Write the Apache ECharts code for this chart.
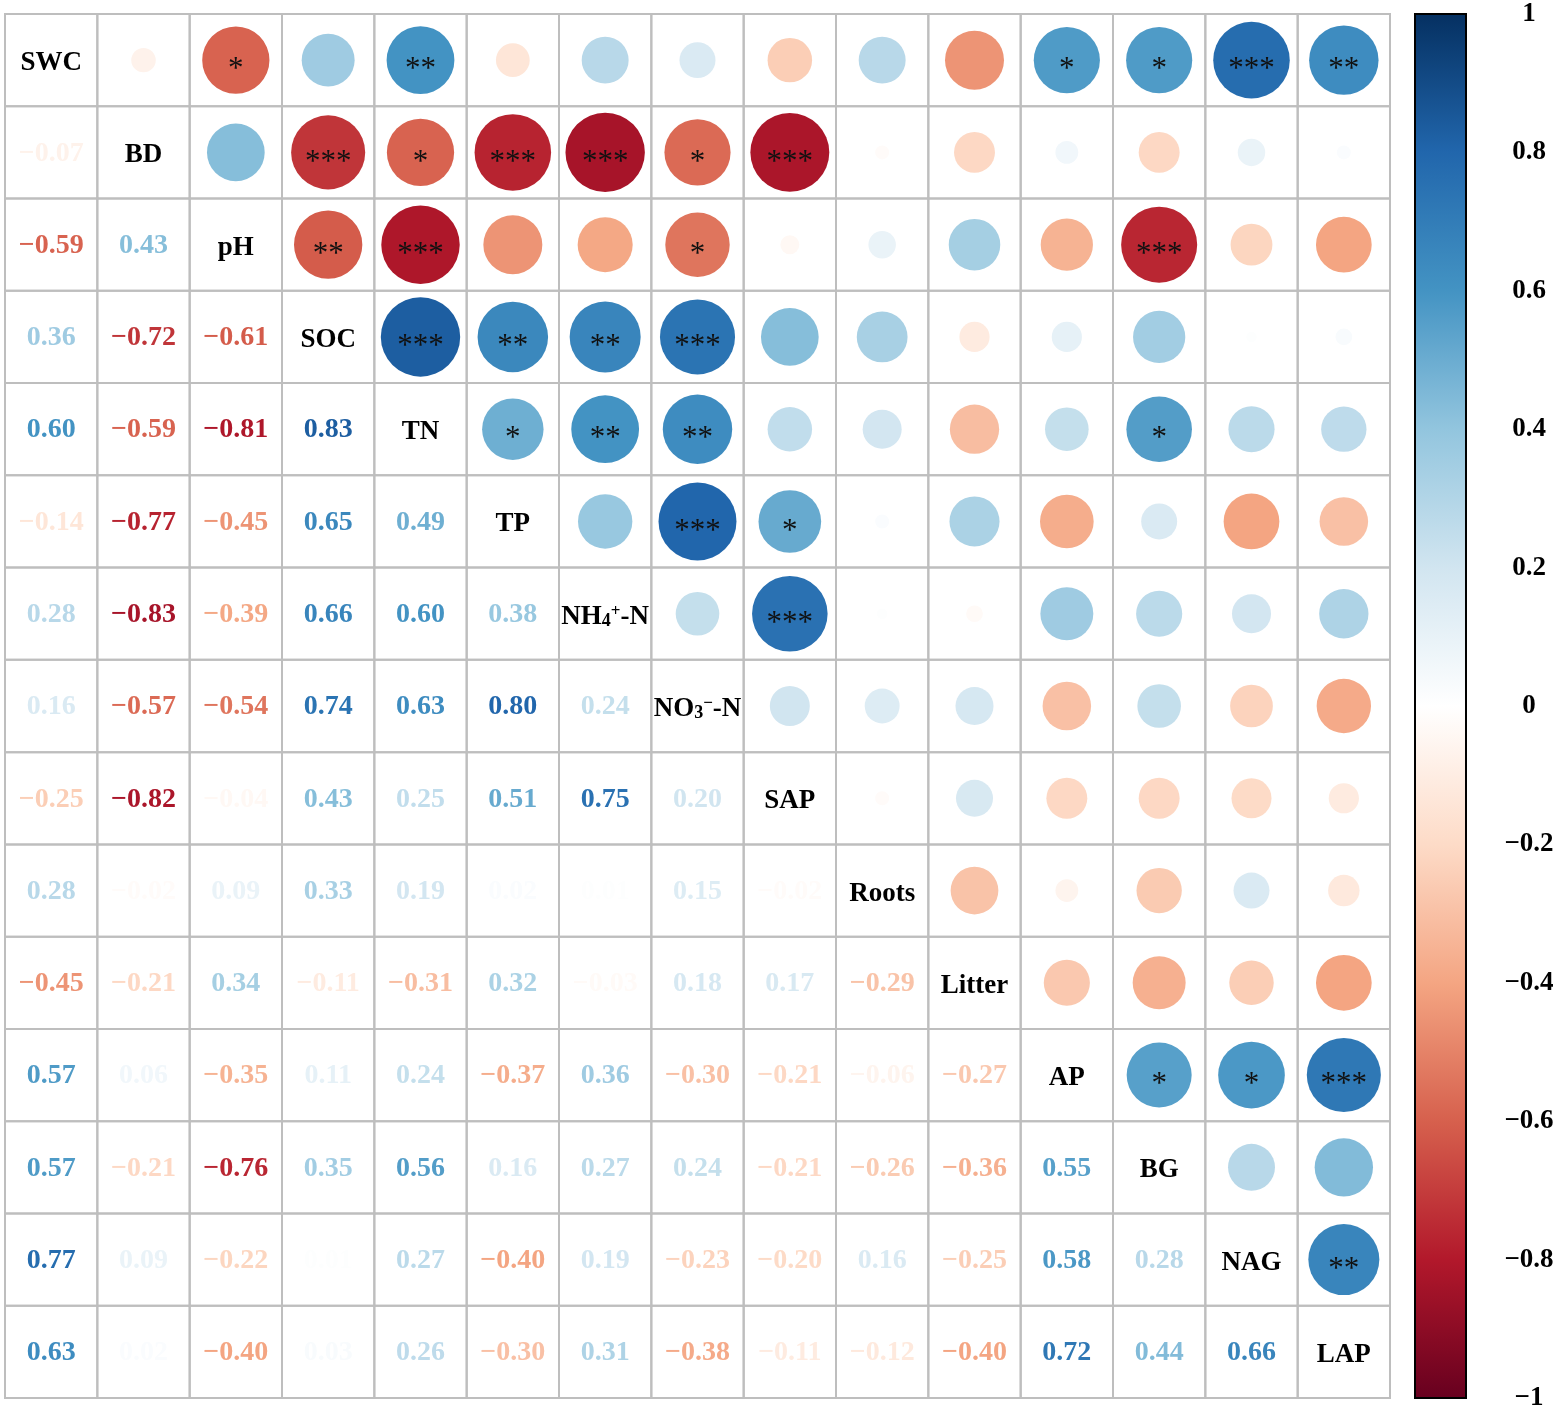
<!DOCTYPE html>
<html>
<head>
<meta charset="utf-8">
<script src="https://cdn.jsdelivr.net/npm/echarts@6/dist/echarts.min.js"></script>
<style>
  html, body { margin: 0; padding: 0; background: #fff; }
  #main { width: 1559px; height: 1412px; }
</style>
</head>
<body>
<div id="main"></div>
<script>
// variable names, in plotting order (rich text marks the sub/superscripts)
var variables = ['SWC', 'BD', 'pH', 'SOC', 'TN', 'TP', 'NH{s|4}{p|+}-N', 'NO{s|3}{p|\u2212}-N',
  'SAP', 'Roots', 'Litter', 'AP', 'BG', 'NAG', 'LAP'];

// lower triangle of the correlation matrix, row by row
var corrLower = [
  [],
  [-0.07],
  [-0.59, 0.43],
  [0.36, -0.72, -0.61],
  [0.60, -0.59, -0.81, 0.83],
  [-0.14, -0.77, -0.45, 0.65, 0.49],
  [0.28, -0.83, -0.39, 0.66, 0.60, 0.38],
  [0.16, -0.57, -0.54, 0.74, 0.63, 0.80, 0.24],
  [-0.25, -0.82, -0.04, 0.43, 0.25, 0.51, 0.75, 0.20],
  [0.28, -0.02, 0.09, 0.33, 0.19, 0.02, 0.01, 0.15, -0.02],
  [-0.45, -0.21, 0.34, -0.11, -0.31, 0.32, -0.03, 0.18, 0.17, -0.29],
  [0.57, 0.06, -0.35, 0.11, 0.24, -0.37, 0.36, -0.30, -0.21, -0.06, -0.27],
  [0.57, -0.21, -0.76, 0.35, 0.56, 0.16, 0.27, 0.24, -0.21, -0.26, -0.36, 0.55],
  [0.77, 0.09, -0.22, 0.01, 0.27, -0.40, 0.19, -0.23, -0.20, 0.16, -0.25, 0.58, 0.28],
  [0.63, 0.02, -0.40, 0.03, 0.26, -0.30, 0.31, -0.38, -0.11, -0.12, -0.40, 0.72, 0.44, 0.66]
];

// significance marks shown in the upper triangle: [row, col, stars]
var sigMarks = [
  [0, 2, '*'], [0, 4, '**'], [0, 11, '*'], [0, 12, '*'], [0, 13, '***'], [0, 14, '**'],
  [1, 3, '***'], [1, 4, '*'], [1, 5, '***'], [1, 6, '***'], [1, 7, '*'], [1, 8, '***'],
  [2, 3, '**'], [2, 4, '***'], [2, 7, '*'], [2, 12, '***'],
  [3, 4, '***'], [3, 5, '**'], [3, 6, '**'], [3, 7, '***'],
  [4, 5, '*'], [4, 6, '**'], [4, 7, '**'], [4, 12, '*'],
  [5, 7, '***'], [5, 8, '*'],
  [6, 8, '***'],
  [11, 12, '*'], [11, 13, '*'], [11, 14, '***'],
  [13, 14, '**']
];

// RdBu palette, from -1 to 1
var palette = ['#67001F', '#B2182B', '#D6604D', '#F4A582', '#FDDBC7', '#FFFFFF',
  '#D1E5F0', '#92C5DE', '#4393C3', '#2166AC', '#053061'];

function hex2rgb(h) {
  return [parseInt(h.substr(1, 2), 16), parseInt(h.substr(3, 2), 16), parseInt(h.substr(5, 2), 16)];
}
function corrColor(v) {
  var t = (v + 1) / 2 * (palette.length - 1);
  var i = Math.min(Math.floor(t), palette.length - 2);
  var f = t - i;
  var a = hex2rgb(palette[i]), b = hex2rgb(palette[i + 1]);
  var c = a.map(function (x, k) { return Math.round(x + (b[k] - x) * f); });
  return 'rgb(' + c.join(',') + ')';
}
function fmt(v) {
  var s = Math.abs(v).toFixed(2);
  return v < 0 ? '\u2212' + s : s;
}

var n = variables.length;
function corr(i, j) {
  if (i === j) return 1;
  return i > j ? corrLower[i][j] : corrLower[j][i];
}
var starLookup = {};
sigMarks.forEach(function (m) { starLookup[m[0] + '_' + m[1]] = m[2]; });

var cells = [];
for (var i = 0; i < n; i++) {
  for (var j = 0; j < n; j++) {
    cells.push([j, i, corr(i, j)]);
  }
}

var serif = '"Liberation Serif", "Times New Roman", serif';

function renderCell(params, api) {
  var col = api.value(0), row = api.value(1), v = api.value(2);
  var c = api.coord([col, row]);
  var sz = api.size([1, 1]);
  var w = sz[0], h = sz[1];
  var children = [{
    type: 'rect',
    shape: { x: c[0] - w / 2, y: c[1] - h / 2, width: w, height: h },
    style: { fill: null, stroke: '#BEBEBE', lineWidth: 2 }
  }];
  if (row === col) {
    children.push({
      type: 'text',
      style: {
        x: c[0], y: c[1] + 3, text: variables[row], fill: '#000',
        fontFamily: serif, fontWeight: 'bold', fontSize: 27,
        align: 'center', verticalAlign: 'middle',
        rich: {
          s: { fontFamily: serif, fontWeight: 'bold', fontSize: 18, verticalAlign: 'bottom', padding: [0, 0, 0, 0], lineHeight: 24 },
          p: { fontFamily: serif, fontWeight: 'bold', fontSize: 17, verticalAlign: 'top', lineHeight: 20 }
        }
      }
    });
  } else if (row > col) {
    children.push({
      type: 'text',
      style: {
        x: c[0], y: c[1] + 1, text: fmt(v), fill: corrColor(v),
        font: 'bold 28px ' + serif, textAlign: 'center', textVerticalAlign: 'middle'
      }
    });
  } else {
    var r = (0.92 * w * Math.sqrt(Math.abs(v)) + 2) / 2;
    children.push({
      type: 'circle',
      shape: { cx: c[0], cy: c[1], r: r },
      style: { fill: corrColor(v), stroke: null }
    });
    var st = starLookup[row + '_' + col];
    if (st) {
      children.push({
        type: 'text',
        style: {
          x: c[0], y: c[1] + 10, text: st, fill: '#111',
          font: '31px ' + serif, textAlign: 'center', textVerticalAlign: 'middle'
        }
      });
    }
  }
  return { type: 'group', children: children };
}

function renderBar(params, api) {
  var p0 = api.coord([0, 1]);
  var p1 = api.coord([1, -1]);
  var stops = palette.map(function (col, k) {
    return { offset: 1 - k / (palette.length - 1), color: col };
  }).reverse();
  return {
    type: 'rect',
    shape: { x: p0[0], y: p0[1], width: p1[0] - p0[0], height: p1[1] - p0[1] },
    style: {
      fill: new echarts.graphic.LinearGradient(0, 0, 0, 1, stops),
      stroke: '#000', lineWidth: 2
    }
  };
}

var chart = echarts.init(document.getElementById('main'));
chart.setOption({
  backgroundColor: '#fff',
  animation: false,
  grid: [
    { left: 5, top: 14, width: 1385, height: 1384 },
    { left: 1415, top: 14, width: 51, height: 1384 }
  ],
  xAxis: [
    { gridIndex: 0, type: 'category', data: variables, show: false },
    { gridIndex: 1, type: 'value', min: 0, max: 1, show: false }
  ],
  yAxis: [
    { gridIndex: 0, type: 'category', data: variables, inverse: true, show: false },
    {
      gridIndex: 1, type: 'value', min: -1, max: 1, interval: 0.2, position: 'right',
      axisLine: { show: false },
      splitLine: { show: false },
      axisTick: { show: true, length: 10, lineStyle: { color: '#000', width: 2 } },
      axisLabel: {
        margin: 63, align: 'center', color: '#000',
        fontFamily: serif, fontWeight: 'bold', fontSize: 27,
        formatter: function (v) {
          var k = Math.round(v * 10) / 10;
          if (k === 0) return '0';
          return (k < 0 ? '\u2212' : '') + String(Math.abs(k));
        }
      }
    }
  ],
  series: [
    {
      type: 'custom', xAxisIndex: 0, yAxisIndex: 0,
      renderItem: renderCell, data: cells, silent: true
    },
    {
      type: 'custom', xAxisIndex: 1, yAxisIndex: 1,
      renderItem: renderBar, data: [[0, 0]], silent: true
    }
  ]
});
</script>
</body>
</html>
